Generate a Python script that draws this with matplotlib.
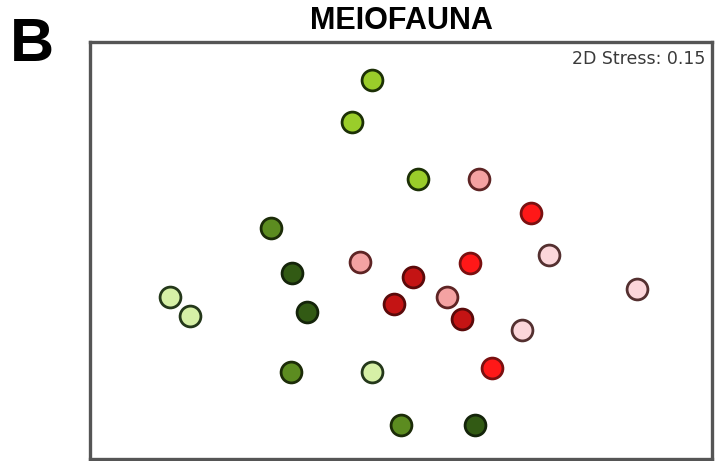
import matplotlib
matplotlib.use("Agg")
import matplotlib.pyplot as plt

# NMDS coordinates per group (3 samples each)
groups = ["bright_green", "mid_green", "dark_green", "light_green",
          "salmon", "red", "pale_pink", "dark_red"]
x_vals = {
    "bright_green": [-0.29, -0.49, 0.17],
    "mid_green":    [-1.30, -1.10, 0.00],
    "dark_green":   [-1.09, -0.94, 0.74],
    "light_green":  [-2.31, -2.11, -0.29],
    "salmon":       [0.78, -0.41, 0.46],
    "red":          [1.30, 0.69, 0.91],
    "pale_pink":    [1.48, 1.21, 2.36],
    "dark_red":     [0.12, -0.07, 0.61],
}
y_vals = {
    "bright_green": [1.70, 1.28, 0.71],
    "mid_green":    [0.22, -1.22, -1.75],
    "dark_green":   [-0.23, -0.62, -1.75],
    "light_green":  [-0.47, -0.66, -1.22],
    "salmon":       [0.71, -0.12, -0.47],
    "red":          [0.37, -0.13, -1.18],
    "pale_pink":    [-0.05, -0.80, -0.39],
    "dark_red":     [-0.27, -0.54, -0.69],
}
fill = {
    "bright_green": "#9acd2a",
    "mid_green":    "#5c8c20",
    "dark_green":   "#325a14",
    "light_green":  "#d6f0a6",
    "salmon":       "#f4a2a2",
    "red":          "#ff1818",
    "pale_pink":    "#fcd6da",
    "dark_red":     "#c41414",
}
edge = {
    "bright_green": "#1c3006",
    "mid_green":    "#1c2c08",
    "dark_green":   "#14240a",
    "light_green":  "#24381a",
    "salmon":       "#5e2424",
    "red":          "#7a1010",
    "pale_pink":    "#543030",
    "dark_red":     "#5a0a0a",
}
title = "MEIOFAUNA"
panel = "B"
stress_text = "2D Stress: 0.15"

fig = plt.figure(figsize=(7.16, 4.61), dpi=100)
ax = fig.add_axes([90/716, 2/461, 622/716, 417/461])

for g in groups:
    ax.scatter(x_vals[g], y_vals[g], s=225, c=fill[g], edgecolors=edge[g],
               linewidths=2.0, zorder=3)

ax.set_xlim(-3.11, 3.11)
ax.set_ylim(-2.09, 2.08)
ax.set_xticks([])
ax.set_yticks([])
for sp in ax.spines.values():
    sp.set_linewidth(2.4)
    sp.set_color("#555555")

ax.text(0.99, 0.982, stress_text, transform=ax.transAxes, ha="right", va="top",
        fontsize=12.5, color="#3a3a3a", family="DejaVu Sans")

fig.text(401/716, 1 - 29/461, title, ha="center", va="baseline",
         fontsize=22, fontweight="bold", family="Liberation Sans")
fig.text(10/716, 1 - 61/461, panel, ha="left", va="baseline",
         fontsize=44, fontweight="bold", family="Liberation Sans")

fig.savefig("out.png", dpi=100, facecolor="white")
